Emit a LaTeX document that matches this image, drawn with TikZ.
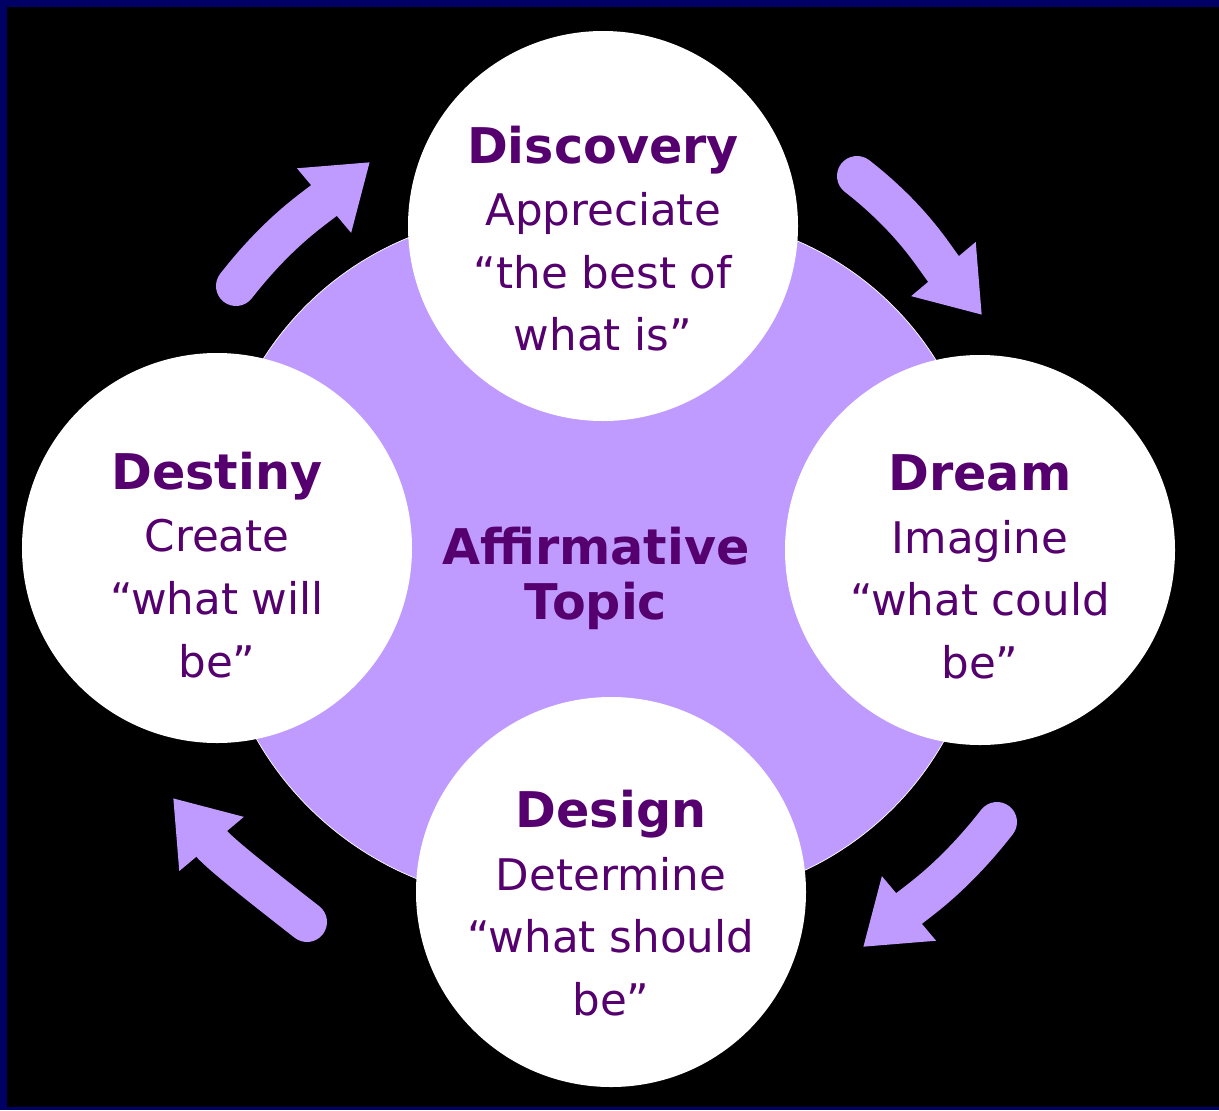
\documentclass[tikz,border=0pt]{standalone}
\usepackage{fontspec}
\setmainfont{DejaVu Sans}
\usetikzlibrary{arrows.meta}

\definecolor{lav}{RGB}{191,155,255}
\definecolor{ink}{RGB}{85,0,110}
\definecolor{frame}{RGB}{0,0,100}
\newcommand\headword[1]{{\fontsize{35}{44.5}\selectfont\bfseries #1}}

\begin{document}
\begin{tikzpicture}[x=0.25mm, y=-0.25mm,
  bubble/.style={circle, fill=white, minimum size=97.5mm, inner sep=0pt},
  words/.style={align=center, text=ink, font=\fontsize{31}{44.5}\selectfont},
  flow/.style={lav, line width=10mm, line cap=round, -{Triangle[length=15mm, width=20mm]}},
  petal/.style={bend left=55, looseness=1.08}]
% background and frame
\useasboundingbox (0,0) rectangle (1219,1110);
\fill[frame] (0,0) rectangle (1219,1110);
\fill[black] (7,7) rectangle (1219,1107);

% centres of the four phases
\coordinate (pDisc) at (603,226);
\coordinate (pDream) at (980,550);
\coordinate (pDesign) at (611,892);
\coordinate (pDestiny) at (217,548);

% lilac core
\filldraw[lav, draw=white, line width=0.5pt] (pDisc) to[petal] (pDream) to[petal] (pDesign) to[petal] (pDestiny) to[petal] (pDisc) -- cycle;
\node[text=ink, align=center, font=\fontsize{35}{39}\selectfont\bfseries] (topic) at (596,578) {Affirmative\\Topic};

% cycle arrows
\coordinate (a1s) at (236,286); \coordinate (a1e) at (370,162);
\coordinate (a2s) at (857,176); \coordinate (a2e) at (982,315);
\coordinate (a3s) at (997,822); \coordinate (a3e) at (863,947);
\coordinate (a4s) at (307,922); \coordinate (a4e) at (173,798);
\draw[flow] (a1s) to[out=52, in=220] (a1e);
\draw[flow] (a2s) to[out=-38, in=130] (a2e);
\draw[flow] (a3s) to[out=232, in=40] (a3e);
\draw[flow] (a4s) to[out=142, in=-50] (a4e);

% the four phases
\node[bubble] (disc) at (pDisc) {};
\node[bubble] (dream) at (pDream) {};
\node[bubble] (design) at (pDesign) {};
\node[bubble] (destiny) at (pDestiny) {};
\node[words] (discTxt) at ([yshift=-9pt]disc.center) {\headword{Discovery}\\Appreciate\\“the best of\\what is”};
\node[words] (dreamTxt) at ([yshift=-12pt]dream.center) {\headword{Dream}\\Imagine\\“what could\\be”};
\node[words] (designTxt) at ([yshift=-8pt]design.center) {\headword{Design}\\Determine\\“what should\\be”};
\node[words] (destinyTxt) at ([yshift=-12pt]destiny.center) {\headword{Destiny}\\Create\\“what will\\be”};
\end{tikzpicture}
\end{document}
